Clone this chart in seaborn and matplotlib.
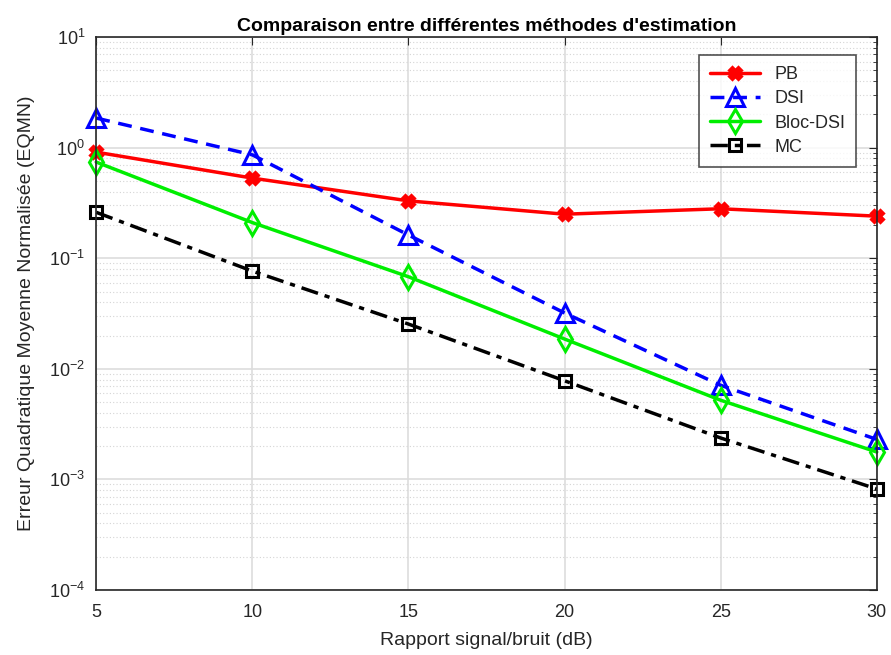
import matplotlib
matplotlib.use("Agg")
import matplotlib.pyplot as plt
import seaborn as sns
import numpy as np
import pandas as pd
from matplotlib.ticker import LogLocator, FixedLocator

snr = [5, 10, 15, 20, 25, 30]
pb = [0.91, 0.53, 0.33, 0.25, 0.28, 0.24]
dsi = [1.85, 0.86, 0.162, 0.032, 0.0071, 0.0023]
bloc_dsi = [0.74, 0.21, 0.068, 0.0186, 0.0052, 0.00177]
mc = [0.26, 0.0765, 0.0254, 0.0078, 0.00237, 0.00082]
series_names = ["PB", "DSI", "Bloc-DSI", "MC"]

sns.set_style("white")
plt.rcParams['font.family'] = ['Liberation Sans', 'DejaVu Sans']
plt.rcParams['mathtext.fontset'] = 'custom'
plt.rcParams['mathtext.rm'] = 'Liberation Sans'
plt.rcParams['mathtext.it'] = 'Liberation Sans'

df = pd.DataFrame({"snr": snr * 4,
                   "val": pb + dsi + bloc_dsi + mc,
                   "méthode": sum([[n] * len(snr) for n in series_names], [])})

fig = plt.figure(figsize=(8.91, 6.55), dpi=100)
ax = fig.add_axes([0.108, 0.0992, 0.876, 0.8443])

styles = {
    "PB": dict(color="#ff0000", ls="-", marker="X", ms=9, mfc="#ff0000"),
    "DSI": dict(color="#0000ff", ls=(0, (4, 2.5)), marker="^", ms=13, mfc="none"),
    "Bloc-DSI": dict(color="#00ee00", ls="-", marker="d", ms=12, mfc="none"),
    "MC": dict(color="#000000", ls=(0, (5, 2, 1.5, 2)), marker="s", ms=8, mfc="none"),
}
for name in series_names:
    st = styles[name]
    sub = df[df["méthode"] == name]
    sns.lineplot(data=sub, x="snr", y="val", ax=ax, color=st["color"],
                 linestyle=st["ls"], lw=2.5, marker=st["marker"], markersize=st["ms"],
                 markerfacecolor=st["mfc"], markeredgecolor=st["color"],
                 markeredgewidth=2.2, label=name, clip_on=False)

ax.set_yscale("log")
ax.set_xlim(5, 30)
ax.set_ylim(1e-4, 1e1)
ax.set_xticks([5, 10, 15, 20, 25, 30])
ax.yaxis.set_major_locator(FixedLocator([1e-4, 1e-3, 1e-2, 1e-1, 1e0, 1e1]))
ax.yaxis.set_minor_locator(LogLocator(base=10, subs=np.arange(2, 10), numticks=20))
ax.set_yticklabels([r"$10^{-4}$", r"$10^{-3}$", r"$10^{-2}$", r"$10^{-1}$", r"$10^{0}$", r"$10^{1}$"])

ax.grid(True, which="major", color="#dddddd", lw=1.2, ls="-")
ax.grid(True, which="minor", color="#d4d4d4", lw=0.8, ls=(0, (1, 2)))
ax.xaxis.set_minor_locator(FixedLocator([]))
ax.tick_params(axis="both", which="both", direction="in", top=True, right=True,
               colors="#262626", labelsize=13, labelcolor="#262626")
ax.tick_params(which="major", length=6)
ax.tick_params(which="minor", length=3)
ax.tick_params(axis="x", which="major", pad=10)
ax.tick_params(axis="y", which="major", pad=8)
for s in ax.spines.values():
    s.set_color("#262626")
    s.set_linewidth(1.2)

ax.set_xlabel("Rapport signal/bruit (dB)", fontsize=14, color="#262626", labelpad=8)
ax.set_ylabel("Erreur Quadratique Moyenne Normalisée (EQMN)", fontsize=14, color="#262626",
              labelpad=10)
ax.set_title("Comparaison entre différentes méthodes d'estimation", fontsize=14,
             fontweight="bold", color="#000000", pad=4)

leg = ax.legend(loc="upper right", bbox_to_anchor=(0.974, 0.967), borderaxespad=0,
                fontsize=13, frameon=True, fancybox=False, edgecolor="#262626",
                handlelength=2.8, borderpad=0.6, labelspacing=0.4)
leg.get_frame().set_linewidth(1.2)
for t in leg.get_texts():
    t.set_color("#262626")

fig.savefig("out.png", dpi=100)
